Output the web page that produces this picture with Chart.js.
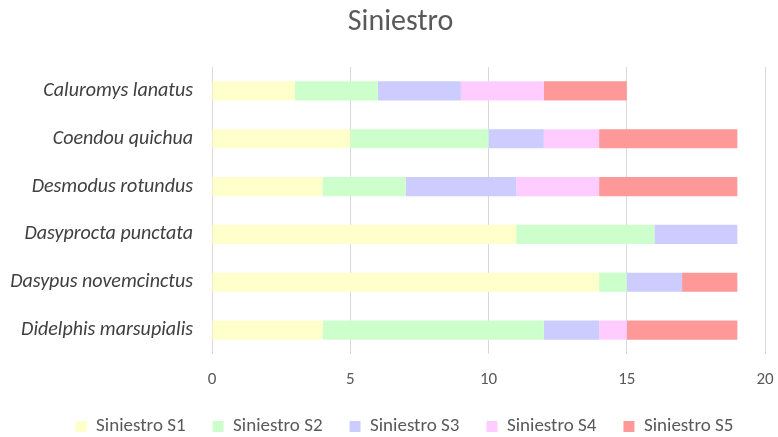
<!DOCTYPE html>
<html>
<head>
<meta charset="utf-8">
<script src="https://cdn.jsdelivr.net/npm/chart.js@4"></script>
<style>
  html, body { margin: 0; padding: 0; background: #fff; }
  #wrap { width: 778px; height: 437px; }
</style>
</head>
<body>
<div id="wrap"><canvas id="chart" width="778" height="437"></canvas></div>
<script>
// Datos del gráfico
const especies = ['Caluromys lanatus', 'Coendou quichua', 'Desmodus rotundus', 'Dasyprocta punctata', 'Dasypus novemcinctus', 'Didelphis marsupialis'];
const serieS1 = [3, 5, 4, 11, 14, 4];
const serieS2 = [3, 5, 3, 5, 1, 8];
const serieS3 = [3, 2, 4, 3, 2, 2];
const serieS4 = [3, 2, 3, 0, 0, 1];
const serieS5 = [3, 5, 5, 0, 2, 4];
const nombresSeries = ['Siniestro S1', 'Siniestro S2', 'Siniestro S3', 'Siniestro S4', 'Siniestro S5'];
const ejeX = { min: 0, max: 20, step: 5 };

const colores = ['#FFFFCC', '#CCFFCC', '#CCCCFF', '#FFCCFF', '#FF9999'];
const FONT = 'Carlito, Calibri, Lato, "Open Sans", sans-serif';

const valores = [serieS1, serieS2, serieS3, serieS4, serieS5];
const datasets = valores.map((v, i) => ({
  label: nombresSeries[i],
  data: v,
  backgroundColor: colores[i],
  borderWidth: 0,
  barPercentage: 0.4,
  categoryPercentage: 1
}));

// Ajustes de la leyenda y el título (altura y posición horizontal)
const ajusteCajas = {
  id: 'ajusteCajas',
  afterInit(chart) {
    const lg = chart.legend;
    const fitOrig = lg.fit;
    lg.fit = function () {
      fitOrig.call(this);
      this.height -= 9;
    };
  },
  afterLayout(chart) {
    if (chart.titleBlock) {
      chart.titleBlock.left += 14;
      chart.titleBlock.right += 14;
    }
    if (chart.legend) {
      chart.legend.left += 18;
      chart.legend.right += 18;
    }
  }
};

new Chart(document.getElementById('chart').getContext('2d'), {
  type: 'bar',
  data: { labels: especies, datasets: datasets },
  plugins: [ajusteCajas],
  options: {
    indexAxis: 'y',
    responsive: false,
    animation: false,
    layout: { padding: { left: 8, right: 13, top: 4, bottom: 0 } },
    plugins: {
      title: {
        display: true,
        text: 'Siniestro',
        color: '#595959',
        font: { family: FONT, size: 30, weight: 300 },
        padding: { top: 0, bottom: 27 }
      },
      legend: {
        position: 'bottom',
        labels: {
          color: '#595959',
          font: { family: FONT, size: 19 },
          boxWidth: 11,
          boxHeight: 11,
          padding: 27
        }
      },
      tooltip: { enabled: false }
    },
    scales: {
      x: {
        stacked: true,
        min: ejeX.min,
        max: ejeX.max,
        ticks: { stepSize: ejeX.step, color: '#595959', font: { family: FONT, size: 17 }, padding: 16 },
        grid: { color: '#d9d9d9', lineWidth: 1, drawTicks: false },
        border: { display: false },
        afterFit: (scale) => {
          scale.height = 36;
          scale.paddingLeft = 0;
          scale.paddingRight = 0;
        }
      },
      y: {
        stacked: true,
        ticks: { color: '#404040', font: { family: FONT, size: 20, style: 'italic' }, padding: 11 },
        grid: { display: false },
        border: { display: false },
        afterFit: (scale) => { scale.width = 204; }
      }
    }
  }
});
</script>
</body>
</html>
